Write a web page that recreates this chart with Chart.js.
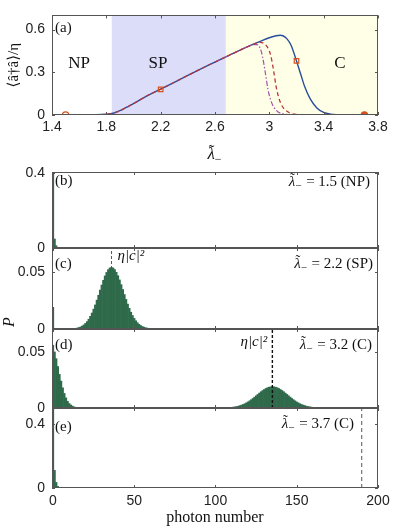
<!DOCTYPE html>
<html>
<head>
<meta charset="utf-8">
<script src="https://cdn.jsdelivr.net/npm/chart.js@4.4.1/dist/chart.umd.min.js"></script>
<style>
  html, body { margin: 0; padding: 0; background: #fff; }
  #wrap { position: relative; width: 399px; height: 527px; }
  #wrap canvas { position: absolute; left: 0; top: 0; }
</style>
</head>
<body>
<div id="wrap">
  <canvas id="pa" width="399" height="527"></canvas>
  <canvas id="pb" width="399" height="527"></canvas>
  <canvas id="pc" width="399" height="527"></canvas>
  <canvas id="pd" width="399" height="527"></canvas>
  <canvas id="pe" width="399" height="527"></canvas>
</div>
<script>
// ---- panel (a): mean photon number vs lambda ----
const phaseBounds = [1.4, 1.84, 2.68, 3.8];
const phaseNames = ["NP", "SP", "C"];
const aXTicks = [1.4, 1.8, 2.2, 2.6, 3, 3.4, 3.8];
const aYTicks = [0, 0.3, 0.6];

const blueX = [1.4, 1.5, 1.6, 1.7, 1.8, 1.85, 1.9, 1.95, 2.0, 2.05, 2.1, 2.2, 2.3, 2.4, 2.5, 2.6, 2.7, 2.8,
               2.9, 2.95, 3.0, 3.05, 3.08, 3.1, 3.13, 3.16, 3.2, 3.23, 3.26, 3.3, 3.35, 3.4, 3.45, 3.5, 3.6, 3.8];
const blueY = [0, 0, 0.001, 0.002, 0.005, 0.012, 0.03, 0.055, 0.08, 0.108, 0.135, 0.182, 0.23, 0.278, 0.326, 0.372, 0.418, 0.463,
               0.505, 0.525, 0.543, 0.557, 0.561, 0.557, 0.535, 0.49, 0.38, 0.29, 0.2, 0.115, 0.05, 0.018, 0.006, 0.002, 0, 0];

const redX = [1.4, 1.5, 1.6, 1.7, 1.8, 1.85, 1.9, 1.95, 2.0, 2.05, 2.1, 2.2, 2.3, 2.4, 2.5, 2.6, 2.7, 2.8,
              2.85, 2.9, 2.93, 2.96, 2.99, 3.01, 3.03, 3.05, 3.07, 3.09, 3.12, 3.15, 3.2, 3.3, 3.8];
const redY = [0, 0, 0.001, 0.002, 0.005, 0.012, 0.03, 0.055, 0.08, 0.108, 0.135, 0.182, 0.23, 0.278, 0.326, 0.372, 0.418, 0.463,
              0.484, 0.503, 0.51, 0.503, 0.47, 0.42, 0.32, 0.2, 0.12, 0.07, 0.033, 0.015, 0.004, 0, 0];

const purpleX = [2.6, 2.7, 2.8, 2.85, 2.88, 2.91, 2.93, 2.95, 2.97, 2.99, 3.01, 3.03, 3.06, 3.1, 3.2, 3.8];
const purpleY = [0.372, 0.418, 0.463, 0.484, 0.494, 0.494, 0.475, 0.41, 0.3, 0.18, 0.105, 0.06, 0.025, 0.008, 0, 0];

const markerX = [1.5, 2.2, 3.2, 3.7];
const markerY = [0, 0.18, 0.38, 0];
const markerShape = ["circle", "rect", "rect", "circle"];
const markerFilled = [false, false, false, true];

// ---- panels (b)-(e): photon number distributions ----
const nTicks = [0, 50, 100, 150, 200];

const bLow = [0.93, 0.048, 0.012, 0.003, 0.001];
const bPeakStart = 0, bPeak = [];

const cLow = [0.019];
const cPeakStart = 12;
const cPeak = [0.0002, 0.0004, 0.0006, 0.0009, 0.0013, 0.0018, 0.0026, 0.0036, 0.0049, 0.0065,
               0.0086, 0.0111, 0.0140, 0.0174, 0.0211, 0.0253, 0.0296, 0.0341, 0.0385, 0.0427,
               0.0465, 0.0496, 0.0520, 0.0535, 0.0540, 0.0535, 0.0521, 0.0497, 0.0467, 0.0430,
               0.0389, 0.0346, 0.0302, 0.0259, 0.0218, 0.0181, 0.0147, 0.0118, 0.0093, 0.0072,
               0.0055, 0.0041, 0.0030, 0.0022, 0.0016, 0.0011, 0.0008, 0.0005, 0.0003, 0.0002];

const dLow = [0.056, 0.050, 0.044, 0.037, 0.030, 0.024, 0.018, 0.013, 0.009, 0.006,
              0.004, 0.0027, 0.0017, 0.001, 0.0006, 0.0003, 0.0002];
const dPeakStart = 106;
const dPeak = [0.0001, 0.0002, 0.0003, 0.0004, 0.0006, 0.0008, 0.0010, 0.0013, 0.0016, 0.0021,
               0.0026, 0.0031, 0.0038, 0.0046, 0.0054, 0.0064, 0.0074, 0.0085, 0.0097, 0.0109,
               0.0121, 0.0133, 0.0145, 0.0156, 0.0165, 0.0174, 0.0181, 0.0186, 0.0189, 0.0190,
               0.0189, 0.0186, 0.0181, 0.0174, 0.0165, 0.0156, 0.0145, 0.0133, 0.0121, 0.0109,
               0.0097, 0.0085, 0.0074, 0.0064, 0.0054, 0.0046, 0.0038, 0.0031, 0.0026, 0.0021,
               0.0016, 0.0013, 0.0010, 0.0008, 0.0006, 0.0004, 0.0003, 0.0002, 0.0001, 0.0001];

const eLow = [0.85, 0.11, 0.035, 0.01, 0.003, 0.001];
const ePeakStart = 0, ePeak = [];

const meanMarks = [null, 36, 135, 190];   // eta|c|^2 for (b)..(e)

const SERIF = '"Liberation Serif", "DejaVu Serif", serif';
const SANS = '"Liberation Sans", Arial, sans-serif';
const FRAME = "#555";
const GREEN = "#2f6a4b";

const pts = (xs, ys) => xs.map((x, i) => ({ x: x, y: ys[i] }));

// box around the plot + inward ticks on all four sides
const boxPlugin = {
  id: "box",
  afterDraw(chart) {
    const { ctx, chartArea: a, scales: { x, y } } = chart;
    ctx.save();
    ctx.strokeStyle = FRAME;
    ctx.lineWidth = 1;
    ctx.beginPath();
    x.ticks.forEach(t => {
      const px = Math.round(x.getPixelForValue(t.value)) + 0.5;
      ctx.moveTo(px, a.bottom); ctx.lineTo(px, a.bottom - 3);
      ctx.moveTo(px, a.top); ctx.lineTo(px, a.top + 3);
    });
    y.ticks.forEach(t => {
      const py = Math.round(y.getPixelForValue(t.value)) + 0.5;
      ctx.moveTo(a.left, py); ctx.lineTo(a.left + 3, py);
      ctx.moveTo(a.right, py); ctx.lineTo(a.right - 3, py);
    });
    ctx.stroke();
    ctx.strokeRect(Math.round(a.left) + 0.5, Math.round(a.top) + 0.5,
                   Math.round(a.width) - 1, Math.round(a.height) - 1);
    ctx.restore();
  }
};

// lambda with a tilde on top and a small minus subscript, then the rest of the text
function drawLambda(ctx, x, y, size, suffix, align) {
  const fMain = "italic " + size + "px " + SERIF;
  const fUp = size + "px " + SERIF;
  const fSub = Math.round(size * 0.7) + "px " + SERIF;
  ctx.font = fMain; const wL = ctx.measureText("λ").width;
  ctx.font = fSub; const wS = ctx.measureText("−").width;
  ctx.font = fUp; const wT = suffix ? ctx.measureText(suffix).width : 0;
  const total = wL + wS + 1 + wT;
  const x0 = align === "right" ? x - total : align === "center" ? x - total / 2 : x;
  ctx.textAlign = "left";
  ctx.font = fMain; ctx.fillText("λ", x0, y);
  ctx.font = fUp; ctx.textAlign = "center";
  ctx.fillText("˜", x0 + wL / 2 + 0.5, y - size * 0.2);
  ctx.textAlign = "left";
  ctx.font = fSub; ctx.fillText("−", x0 + wL, y + size * 0.28);
  if (suffix) { ctx.font = fUp; ctx.fillText(suffix, x0 + wL + wS + 1, y); }
}

function textPlugin(items) {
  return {
    id: "notes",
    afterDraw(chart) {
      const { ctx, chartArea: a, scales: { x, y } } = chart;
      ctx.save();
      ctx.fillStyle = "#111";
      ctx.textBaseline = "middle";
      items.forEach(it => {
        let px, py;
        if (it.data) { px = x.getPixelForValue(it.data[0]); py = y.getPixelForValue(it.data[1]); }
        else if (it.abs) { px = it.abs[0]; py = it.abs[1]; }
        else {
          px = it.fromRight != null ? a.right - it.fromRight
             : it.fromMark != null ? x.getPixelForValue(it.mark) + it.fromMark
             : it.center ? (a.left + a.right) / 2
             : a.left + it.dx;
          py = it.below != null ? a.bottom + it.below : a.top + it.dy;
        }
        if (it.lam) { drawLambda(ctx, px, py, it.size, it.text, it.align); return; }
        ctx.font = it.font;
        ctx.textAlign = it.align || "left";
        if (it.rotate) {
          ctx.translate(px, py); ctx.rotate(-Math.PI / 2);
          ctx.fillText(it.text, 0, 0);
          ctx.setTransform(1, 0, 0, 1, 0, 0);
        } else {
          ctx.fillText(it.text, px, py);
        }
      });
      ctx.restore();
    }
  };
}

const phasePlugin = {
  id: "phases",
  beforeDatasetsDraw(chart) {
    const { ctx, chartArea: a, scales: { x } } = chart;
    const fills = [null, "rgb(220,221,249)", "rgb(255,255,231)"];
    ctx.save();
    for (let i = 0; i < phaseNames.length; i++) {
      if (!fills[i]) continue;
      const x0 = x.getPixelForValue(phaseBounds[i]);
      const x1 = x.getPixelForValue(phaseBounds[i + 1]);
      ctx.fillStyle = fills[i];
      ctx.fillRect(x0, a.top, x1 - x0, a.height);
    }
    ctx.restore();
  }
};

function fixedTicks(vals) {
  return scale => { scale.ticks = vals.map(v => ({ value: v })); };
}

// ---------- panel (a) ----------
new Chart(document.getElementById("pa"), {
  type: "line",
  data: {
    datasets: [
      {
        data: pts(markerX, markerY), showLine: false,
        pointStyle: markerShape, pointRadius: 3.2, borderWidth: 1.2,
        pointBorderColor: "#d4511d",
        pointBackgroundColor: markerFilled.map(f => f ? "#d4511d" : "rgba(0,0,0,0)")
      },
      {
        data: pts(redX, redY), borderColor: "#b8383b", borderWidth: 1.3,
        borderDash: [4, 3], pointRadius: 0, cubicInterpolationMode: "monotone"
      },
      {
        data: pts(purpleX, purpleY), borderColor: "#a24fae", borderWidth: 1.2,
        borderDash: [5, 2, 1.5, 2], pointRadius: 0, cubicInterpolationMode: "monotone"
      },
      {
        data: pts(blueX, blueY), borderColor: "#2a4d9c", borderWidth: 1.4,
        pointRadius: 0, cubicInterpolationMode: "monotone"
      }
    ]
  },
  options: {
    responsive: false, animation: false, events: [],
    layout: { padding: { left: 0, right: 21, top: 13, bottom: 362 } },
    plugins: { legend: { display: false }, tooltip: { enabled: false } },
    scales: {
      x: {
        type: "linear", min: 1.4, max: 3.8,
        afterBuildTicks: fixedTicks(aXTicks),
        afterFit: s => { s.height = 50; },
        grid: { display: false, drawTicks: false }, border: { display: false },
        ticks: { padding: 4, color: "#222", font: { family: SANS, size: 14 }, callback: v => String(v) }
      },
      y: {
        min: 0, max: 0.7,
        afterBuildTicks: fixedTicks(aYTicks),
        afterFit: s => { s.width = 52; },
        grid: { display: false, drawTicks: false }, border: { display: false },
        ticks: { padding: 7, color: "#222", font: { family: SANS, size: 14 }, callback: v => String(v) },
        title: { display: true, text: "⟨â†â⟩/η", color: "#111", font: { family: SERIF, size: 15 }, padding: { top: 5, bottom: 0 } }
      }
    }
  },
  plugins: [phasePlugin, boxPlugin, textPlugin([
    { text: "(a)", dx: 3, dy: 13, font: "15px " + SERIF },
    { text: phaseNames[0], data: [1.6, 0.36], align: "center", font: "17px " + SERIF },
    { text: phaseNames[1], data: [2.18, 0.36], align: "center", font: "17px " + SERIF },
    { text: phaseNames[2], data: [3.52, 0.36], align: "center", font: "17px " + SERIF },
    { text: "", lam: true, size: 17, center: true, below: 40, align: "center" }
  ])]
});

// ---------- panels (b)-(e) ----------
function histChart(id, p) {
  const bars = [];
  p.low.forEach((v, n) => bars.push({ x: n, y: v }));
  p.peak.forEach((v, i) => bars.push({ x: p.peakStart + i, y: v }));
  const datasets = [];
  if (p.mark != null) {
    datasets.push({
      type: "line", data: [{ x: p.mark, y: 0 }, { x: p.mark, y: p.yMax }],
      borderColor: p.markColor, borderWidth: p.markWidth, borderDash: p.markDash, pointRadius: 0
    });
  }
  datasets.push({
    type: "bar", data: bars, backgroundColor: GREEN, borderWidth: 0,
    barPercentage: 1, categoryPercentage: 1
  });
  new Chart(document.getElementById(id), {
    type: "bar",
    data: { datasets },
    options: {
      responsive: false, animation: false, events: [],
      layout: { padding: { left: 0, right: 21, top: p.top, bottom: p.last ? 0 : 527 - p.bottom } },
      plugins: { legend: { display: false }, tooltip: { enabled: false } },
      scales: {
        x: {
          type: "linear", min: -0.6, max: 200, offset: false,
          afterBuildTicks: fixedTicks(nTicks),
          afterFit: s => { s.height = p.last ? 527 - p.bottom : 0; },
          grid: { display: false, drawTicks: false }, border: { display: false },
          ticks: { display: !!p.last, padding: 5, color: "#222", font: { family: SANS, size: 14 } },
          title: { display: !!p.last, text: "photon number", color: "#111", font: { family: SERIF, size: 16 }, padding: { top: 0, bottom: 0 } }
        },
        y: {
          min: 0, max: p.yMax,
          afterBuildTicks: fixedTicks(p.yTicks),
          afterFit: s => { s.width = 52; },
          grid: { display: false, drawTicks: false }, border: { display: false },
          ticks: { padding: 7, color: "#222", font: { family: SANS, size: 14 }, callback: v => String(v) }
        }
      }
    },
    plugins: [boxPlugin, textPlugin(p.notes)]
  });
}

histChart("pb", {
  low: bLow, peak: bPeak, peakStart: bPeakStart, mark: meanMarks[0],
  top: 172, bottom: 248, yMax: 0.405, yTicks: [0, 0.4],
  notes: [
    { text: "(b)", dx: 3, dy: 9, font: "15px " + SERIF },
    { text: " = 1.5 (NP)", lam: true, size: 15, fromRight: 8, dy: 10, align: "right" }
  ]
});
histChart("pc", {
  low: cLow, peak: cPeak, peakStart: cPeakStart, mark: meanMarks[1],
  markColor: "#555", markWidth: 1, markDash: [3, 2],
  top: 248, bottom: 329, yMax: 0.071, yTicks: [0, 0.05],
  notes: [
    { text: "(c)", dx: 3, dy: 16, font: "15px " + SERIF },
    { text: " = 2.2 (SP)", lam: true, size: 15, fromRight: 5, dy: 16, align: "right" },
    { text: "η|c|²", mark: meanMarks[1], fromMark: 6, dy: 8, font: "italic 15px " + SERIF }
  ]
});
histChart("pd", {
  low: dLow, peak: dPeak, peakStart: dPeakStart, mark: meanMarks[2],
  markColor: "#111", markWidth: 1.4, markDash: [3, 2],
  top: 329, bottom: 408, yMax: 0.0705, yTicks: [0, 0.05],
  notes: [
    { text: "(d)", dx: 3, dy: 16, font: "15px " + SERIF },
    { text: " = 3.2 (C)", lam: true, size: 15, fromRight: 6, dy: 16, align: "right" },
    { text: "η|c|²", mark: meanMarks[2], fromMark: -5, dy: 13, align: "right", font: "italic 15px " + SERIF },
    { text: "P", abs: [10, 322], rotate: true, align: "center", font: "italic 16px " + SERIF }
  ]
});
histChart("pe", {
  low: eLow, peak: ePeak, peakStart: ePeakStart, mark: meanMarks[3],
  markColor: "#555", markWidth: 1, markDash: [4, 3],
  top: 408, bottom: 488, yMax: 0.5, yTicks: [0, 0.4], last: true,
  notes: [
    { text: "(e)", dx: 3, dy: 19, font: "15px " + SERIF },
    { text: " = 3.7 (C)", lam: true, size: 15, fromRight: 24, dy: 16, align: "right" }
  ]
});
</script>
</body>
</html>
